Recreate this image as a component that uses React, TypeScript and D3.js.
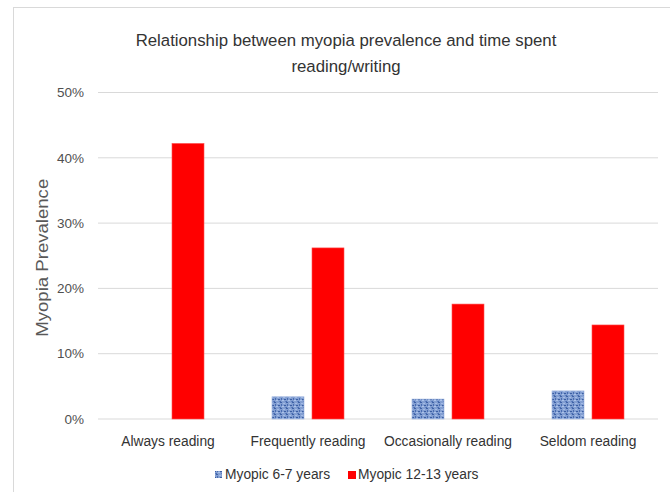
import React from 'react';
import * as d3 from 'd3';

const categories = ['Always reading', 'Frequently reading', 'Occasionally reading', 'Seldom reading'];
const seriesNames = ['Myopic 6-7 years', 'Myopic 12-13 years'];
const young = [0, 3.4, 3.05, 4.3];
const older = [42.2, 26.2, 17.6, 14.4];
const yTicks = [0, 10, 20, 30, 40, 50];

const width = 670;
const height = 492;
const margin = { top: 92.5, right: 12, bottom: 73, left: 98 };

const font = '"Liberation Sans", Arial, sans-serif';

export default function App() {
  const x = d3
    .scaleBand<string>()
    .domain(categories)
    .range([margin.left, width - margin.right])
    .paddingInner(0)
    .paddingOuter(0);

  const y = d3
    .scaleLinear()
    .domain([0, 50])
    .range([height - margin.bottom, margin.top]);

  // two bars per group, 32px wide, 8px apart
  const inner = d3
    .scaleBand<number>()
    .domain([0, 1])
    .range([x.bandwidth() / 2 - 36, x.bandwidth() / 2 + 36])
    .paddingInner(0.2);

  const series = [young, older];

  return (
    <svg
      width={width}
      height={height}
      style={{ position: 'absolute', left: 0, top: 0, background: '#fff' }}
    >
      <defs>
        <pattern id="speckle" width="6" height="6" patternUnits="userSpaceOnUse">
          <rect width="6" height="6" fill="#839fd2" />
          <rect x="0" y="0" width="2" height="1" fill="#3f62a6" />
          <rect x="3" y="1" width="2" height="1" fill="#a3bbe6" />
          <rect x="1" y="2" width="1" height="2" fill="#4a6db2" />
          <rect x="4" y="3" width="2" height="1" fill="#3b5ea3" />
          <rect x="2" y="4" width="2" height="1" fill="#abc2ea" />
          <rect x="0" y="5" width="1" height="1" fill="#4a6cb0" />
          <rect x="5" y="5" width="1" height="1" fill="#5e80c2" />
        </pattern>
      </defs>

      {/* chart frame */}
      <rect x={13.5} y={7.5} width={700} height={500} fill="none" stroke="#d9d9d9" />

      {/* title */}
      <text x={346} y={46} textAnchor="middle" fontFamily={font} fontSize={16.8} fill="#333">
        Relationship between myopia prevalence and time spent
      </text>
      <text x={346} y={72} textAnchor="middle" fontFamily={font} fontSize={16.8} fill="#333">
        reading/writing
      </text>

      {/* gridlines and ticks */}
      {yTicks.map((t) => (
        <g key={t}>
          <line
            x1={margin.left}
            x2={width - margin.right}
            y1={y(t)}
            y2={y(t)}
            stroke="#d9d9d9"
            strokeWidth={1}
          />
          <text
            x={84}
            y={y(t)}
            dy="0.35em"
            textAnchor="end"
            fontFamily={font}
            fontSize={13.5}
            fill="#505050"
          >
            {t}%
          </text>
        </g>
      ))}

      {/* axis title */}
      <text
        transform={`translate(48, ${(y(0) + y(50)) / 2 + 2}) rotate(-90)`}
        textAnchor="middle"
        fontFamily={font}
        fontSize={16}
        fill="#595959"
        textLength={158}
        lengthAdjust="spacingAndGlyphs"
      >
        Myopia Prevalence
      </text>

      {/* bars */}
      {categories.map((c, i) => (
        <g key={c} transform={`translate(${x(c)},0)`}>
          {series.map((s, k) =>
            s[i] > 0 ? (
              <rect
                key={k}
                x={inner(k)}
                y={y(s[i])}
                width={inner.bandwidth()}
                height={y(0) - y(s[i])}
                fill={k === 0 ? 'url(#speckle)' : '#ff0000'}
                stroke={k === 0 ? '#9ab2de' : '#ff5050'}
                strokeWidth={0.6}
              />
            ) : null
          )}
          <text
            x={x.bandwidth() / 2}
            y={446}
            textAnchor="middle"
            fontFamily={font}
            fontSize={13.8}
            fill="#333"
          >
            {c}
          </text>
        </g>
      ))}

      {/* legend */}
      <rect x={215} y={471} width={7} height={7} fill="url(#speckle)" />
      <text x={225} y={479} fontFamily={font} fontSize={13.8} fill="#333">
        {seriesNames[0]}
      </text>
      <rect x={348} y={471} width={8} height={8} fill="#ff0000" />
      <text x={358} y={479} fontFamily={font} fontSize={13.8} fill="#333">
        {seriesNames[1]}
      </text>
    </svg>
  );
}
